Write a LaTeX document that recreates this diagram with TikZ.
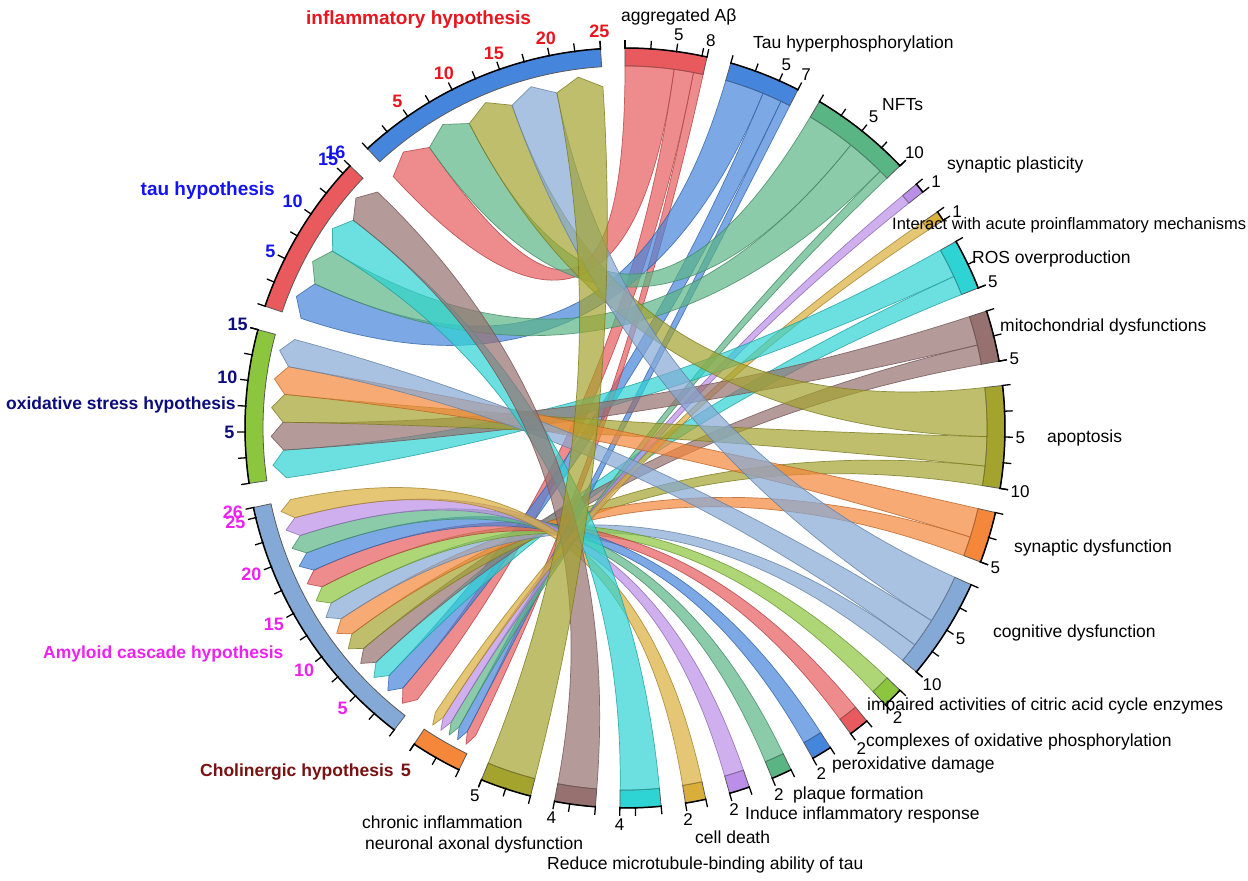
\documentclass[tikz,border=0pt]{standalone}
\usepackage{fontspec}
\setmainfont{Liberation Sans}
\definecolor{cRed}{HTML}{E85A5E}
\definecolor{cBlue}{HTML}{4585DC}
\definecolor{cGreen}{HTML}{5AB585}
\definecolor{cPurple}{HTML}{BB8EE8}
\definecolor{cGold}{HTML}{D9AE3A}
\definecolor{cCyan}{HTML}{2ED3D3}
\definecolor{cMauve}{HTML}{977070}
\definecolor{cOlive}{HTML}{A3A32E}
\definecolor{cOrange}{HTML}{F5873A}
\definecolor{cSteel}{HTML}{85A9D6}
\definecolor{cLime}{HTML}{8CC63E}
\definecolor{cInf}{HTML}{E8161E}
\definecolor{cTau}{HTML}{1414F0}
\definecolor{cOx}{HTML}{0C0C7A}
\definecolor{cAmy}{HTML}{EE22EE}
\definecolor{cChol}{HTML}{7A1212}
\def\myU{1.55862}
\def\myG{3.7}
\tikzset{
  ribbon/.style={fill=#1, fill opacity=0.7, draw=#1!75!black, draw opacity=0.8, line width=0.7pt, line join=round},
  band/.style={fill=#1, draw=black!65, line width=0.8pt},
  axisline/.style={line width=1.5pt, black},
  tickmark/.style={line width=1.3pt, black},
  tgtnum/.style={font=\fontsize{17}{20}\selectfont, inner sep=0.5pt},
  srcnum/.style={font=\bfseries\fontsize{18}{20}\selectfont, inner sep=0.5pt, text=#1},
  tgtname/.style={font=\fontsize{17.5}{20}\selectfont, anchor=west, inner sep=0pt},
  hyp/.style={font=\bfseries\fontsize{17.5}{20}\selectfont, text=#1, inner sep=0pt},
}
% sector: #1 cumulative units before, #2 index, #3 size, #4 colour, #5 name
\newcommand\mysector[5]{%
  \pgfmathsetmacro\sA{90-#1*\myU-#2*\myG}%
  \pgfmathsetmacro\sB{\sA-#3*\myU}%
  \filldraw[band=#4] (\sA:362) arc[start angle=\sA,end angle=\sB,radius=362] -- (\sB:380) arc[start angle=\sB,end angle=\sA,radius=380] -- cycle;
  \draw[axisline] (\sA:380) arc[start angle=\sA,end angle=\sB,radius=380];
  \pgfmathtruncatemacro\nT{floor(#3/2.5)}%
  \foreach \i in {0,...,\nT}{\pgfmathsetmacro\tA{\sA-2.5*\i*\myU}\draw[tickmark] (\tA:379) -- (\tA:388);}
  \draw[tickmark] (\sB:379) -- (\sB:388);
  \coordinate (#5) at ({(\sA+\sB)/2}:380);
}
% tick label: #1 cum, #2 index, #3 value, #4 style, #5 text
\newcommand\ticklab[5]{%
  \pgfmathsetmacro\tA{90-(#1+#3)*\myU-#2*\myG}%
  \pgfmathsetmacro\tAn{mod(\tA+540,360)}%
  \node[#4, anchor=\tAn] (l-#2-#3) at (\tA:390) {#5};
}
% ribbon: #1 src cum, #2 src idx, #3 src value, #4 tgt cum, #5 tgt idx, #6 tgt value, #7 width, #8 colour
\newcommand\myribbon[8]{%
  \pgfmathsetmacro\aA{90-(#1+#3)*\myU-#2*\myG}%
  \pgfmathsetmacro\aB{\aA-#7*\myU}%
  \pgfmathsetmacro\aM{(\aA+\aB)/2}%
  \pgfmathsetmacro\cA{90-(#4+#6)*\myU-#5*\myG}%
  \pgfmathsetmacro\cB{\cA-#7*\myU}%
  \filldraw[ribbon=#8] (\aA:342) -- (\aM:354) -- (\aB:342) .. controls (\aB:114) and (\cA:120.667) .. (\cA:362) arc[start angle=\cA,end angle=\cB,radius=362] .. controls (\cB:120.667) and (\aA:114) .. (\aA:342) -- cycle;
}
\begin{document}
\begin{tikzpicture}[x=1pt,y=1pt]
\path[use as bounding box, fill=white] (-625,-453) rectangle (623,428);
% sectors
\mysector{0}{0}{8}{cRed}{s0}
\mysector{8}{1}{7}{cBlue}{s1}
\mysector{15}{2}{10}{cGreen}{s2}
\mysector{25}{3}{1}{cPurple}{s3}
\mysector{26}{4}{1}{cGold}{s4}
\mysector{27}{5}{5}{cCyan}{s5}
\mysector{32}{6}{5}{cMauve}{s6}
\mysector{37}{7}{10}{cOlive}{s7}
\mysector{47}{8}{5}{cOrange}{s8}
\mysector{52}{9}{10}{cSteel}{s9}
\mysector{62}{10}{2}{cLime}{s10}
\mysector{64}{11}{2}{cRed}{s11}
\mysector{66}{12}{2}{cBlue}{s12}
\mysector{68}{13}{2}{cGreen}{s13}
\mysector{70}{14}{2}{cPurple}{s14}
\mysector{72}{15}{2}{cGold}{s15}
\mysector{74}{16}{4}{cCyan}{s16}
\mysector{78}{17}{4}{cMauve}{s17}
\mysector{82}{18}{5}{cOlive}{s18}
\mysector{87}{19}{5}{cOrange}{s19}
\mysector{92}{20}{26}{cSteel}{s20}
\mysector{118}{21}{15}{cLime}{s21}
\mysector{133}{22}{16}{cRed}{s22}
\mysector{149}{23}{25}{cBlue}{s23}
% ribbons: Amyloid cascade
\myribbon{92}{20}{0}{0}{0}{5}{2}{cRed}
\myribbon{92}{20}{2}{8}{1}{4}{2}{cBlue}
\myribbon{92}{20}{4}{27}{5}{3}{2}{cCyan}
\myribbon{92}{20}{6}{32}{6}{3}{2}{cMauve}
\myribbon{92}{20}{8}{37}{7}{8}{2}{cOlive}
\myribbon{92}{20}{10}{47}{8}{3}{2}{cOrange}
\myribbon{92}{20}{12}{52}{9}{8}{2}{cSteel}
\myribbon{92}{20}{14}{62}{10}{0}{2}{cLime}
\myribbon{92}{20}{16}{64}{11}{0}{2}{cRed}
\myribbon{92}{20}{18}{66}{12}{0}{2}{cBlue}
\myribbon{92}{20}{20}{68}{13}{0}{2}{cGreen}
\myribbon{92}{20}{22}{70}{14}{0}{2}{cPurple}
\myribbon{92}{20}{24}{72}{15}{0}{2}{cGold}
% Cholinergic
\myribbon{87}{19}{0}{0}{0}{7}{1}{cRed}
\myribbon{87}{19}{1}{8}{1}{6}{1}{cBlue}
\myribbon{87}{19}{2}{15}{2}{9}{1}{cGreen}
\myribbon{87}{19}{3}{25}{3}{0}{1}{cPurple}
\myribbon{87}{19}{4}{26}{4}{0}{1}{cGold}
% oxidative stress
\myribbon{118}{21}{0}{27}{5}{0}{3}{cCyan}
\myribbon{118}{21}{3}{32}{6}{0}{3}{cMauve}
\myribbon{118}{21}{6}{37}{7}{5}{3}{cOlive}
\myribbon{118}{21}{9}{47}{8}{0}{3}{cOrange}
\myribbon{118}{21}{12}{52}{9}{5}{3}{cSteel}
% tau
\myribbon{133}{22}{0}{8}{1}{0}{4}{cBlue}
\myribbon{133}{22}{4}{15}{2}{5}{4}{cGreen}
\myribbon{133}{22}{8}{74}{16}{0}{4}{cCyan}
\myribbon{133}{22}{12}{78}{17}{0}{4}{cMauve}
% inflammatory
\myribbon{149}{23}{0}{0}{0}{0}{5}{cRed}
\myribbon{149}{23}{5}{15}{2}{0}{5}{cGreen}
\myribbon{149}{23}{10}{37}{7}{0}{5}{cOlive}
\myribbon{149}{23}{15}{52}{9}{0}{5}{cSteel}
\myribbon{149}{23}{20}{82}{18}{0}{5}{cOlive}
% tick labels, targets
\ticklab{0}{0}{5}{tgtnum}{5}
\ticklab{0}{0}{8}{tgtnum}{8}
\ticklab{8}{1}{5}{tgtnum}{5}
\ticklab{8}{1}{7}{tgtnum}{7}
\ticklab{15}{2}{5}{tgtnum}{5}
\ticklab{15}{2}{10}{tgtnum}{10}
\ticklab{25}{3}{1}{tgtnum}{1}
\ticklab{26}{4}{1}{tgtnum}{1}
\ticklab{27}{5}{5}{tgtnum}{5}
\ticklab{32}{6}{5}{tgtnum}{5}
\ticklab{37}{7}{5}{tgtnum}{5}
\ticklab{37}{7}{10}{tgtnum}{10}
\ticklab{47}{8}{5}{tgtnum}{5}
\ticklab{52}{9}{5}{tgtnum}{5}
\ticklab{52}{9}{10}{tgtnum}{10}
\ticklab{62}{10}{2}{tgtnum}{2}
\ticklab{64}{11}{2}{tgtnum}{2}
\ticklab{66}{12}{2}{tgtnum}{2}
\ticklab{68}{13}{2}{tgtnum}{2}
\ticklab{70}{14}{2}{tgtnum}{2}
\ticklab{72}{15}{2}{tgtnum}{2}
\ticklab{74}{16}{4}{tgtnum}{4}
\ticklab{78}{17}{4}{tgtnum}{4}
\ticklab{82}{18}{5}{tgtnum}{5}
% tick labels, hypotheses
\ticklab{92}{20}{5}{srcnum=cAmy}{5}
\ticklab{92}{20}{10}{srcnum=cAmy}{10}
\ticklab{92}{20}{15}{srcnum=cAmy}{15}
\ticklab{92}{20}{20}{srcnum=cAmy}{20}
\ticklab{92}{20}{25}{srcnum=cAmy}{25}
\ticklab{92}{20}{26}{srcnum=cAmy}{26}
\ticklab{118}{21}{5}{srcnum=cOx}{5}
\ticklab{118}{21}{10}{srcnum=cOx}{10}
\ticklab{118}{21}{15}{srcnum=cOx}{15}
\ticklab{133}{22}{5}{srcnum=cTau}{5}
\ticklab{133}{22}{10}{srcnum=cTau}{10}
\ticklab{133}{22}{15}{srcnum=cTau}{15}
\ticklab{133}{22}{16}{srcnum=cTau}{16}
\ticklab{149}{23}{5}{srcnum=cInf}{5}
\ticklab{149}{23}{10}{srcnum=cInf}{10}
\ticklab{149}{23}{15}{srcnum=cInf}{15}
\ticklab{149}{23}{20}{srcnum=cInf}{20}
\ticklab{149}{23}{25}{srcnum=cInf}{25}
% names, in pixel coordinates
\begin{scope}[x=1pt,y=-1pt,shift={(-625pt,428pt)}]
\node[srcnum=cChol] (l-19-5) at (406,770) {5};
\node[tgtname] (nAb) at (621,17) {aggregated Aβ};
\node[tgtname] (nTH) at (753,44) {Tau hyperphosphorylation};
\node[tgtname] (nNFT) at (882,105) {NFTs};
\node[tgtname] (nSP) at (947,165) {synaptic plasticity};
\node[tgtname, font=\fontsize{16.5}{19}\selectfont] (nIA) at (892,225) {Interact with acute proinflammatory mechanisms};
\node[tgtname] (nROS) at (972,259) {ROS overproduction};
\node[tgtname] (nMito) at (1000,327) {mitochondrial dysfunctions};
\node[tgtname] (nApop) at (1047,438) {apoptosis};
\node[tgtname] (nSD) at (1014,548) {synaptic dysfunction};
\node[tgtname] (nCog) at (993,633) {cognitive dysfunction};
\node[tgtname] (nCit) at (867,706) {impaired activities of citric acid cycle enzymes};
\node[tgtname] (nOxp) at (866,742) {complexes of oxidative phosphorylation};
\node[tgtname] (nPer) at (832,765) {peroxidative damage};
\node[tgtname] (nPlq) at (793,795) {plaque formation};
\node[tgtname] (nInd) at (745,815) {Induce inflammatory response};
\node[tgtname] (nCD) at (695,837) {cell death};
\node[tgtname] (nRed) at (547,865) {Reduce microtubule-binding ability of tau};
\node[tgtname] (nNeu) at (365,845) {neuronal axonal dysfunction};
\node[tgtname] (nChr) at (362,822) {chronic inflammation};
\node[hyp=cInf, anchor=west, font=\bfseries\fontsize{19}{21}\selectfont] (hInf) at (306,20) {inflammatory hypothesis};
\node[hyp=cTau, anchor=east, font=\bfseries\fontsize{19}{21}\selectfont] (hTau) at (275,191) {tau hypothesis};
\node[hyp=cOx, anchor=west] (hOx) at (6,405) {oxidative stress hypothesis};
\node[hyp=cAmy, anchor=west] (hAmy) at (43,654) {Amyloid cascade hypothesis};
\node[hyp=cChol, anchor=west] (hChol) at (200,772) {Cholinergic hypothesis};
\end{scope}
\end{tikzpicture}
\end{document}
